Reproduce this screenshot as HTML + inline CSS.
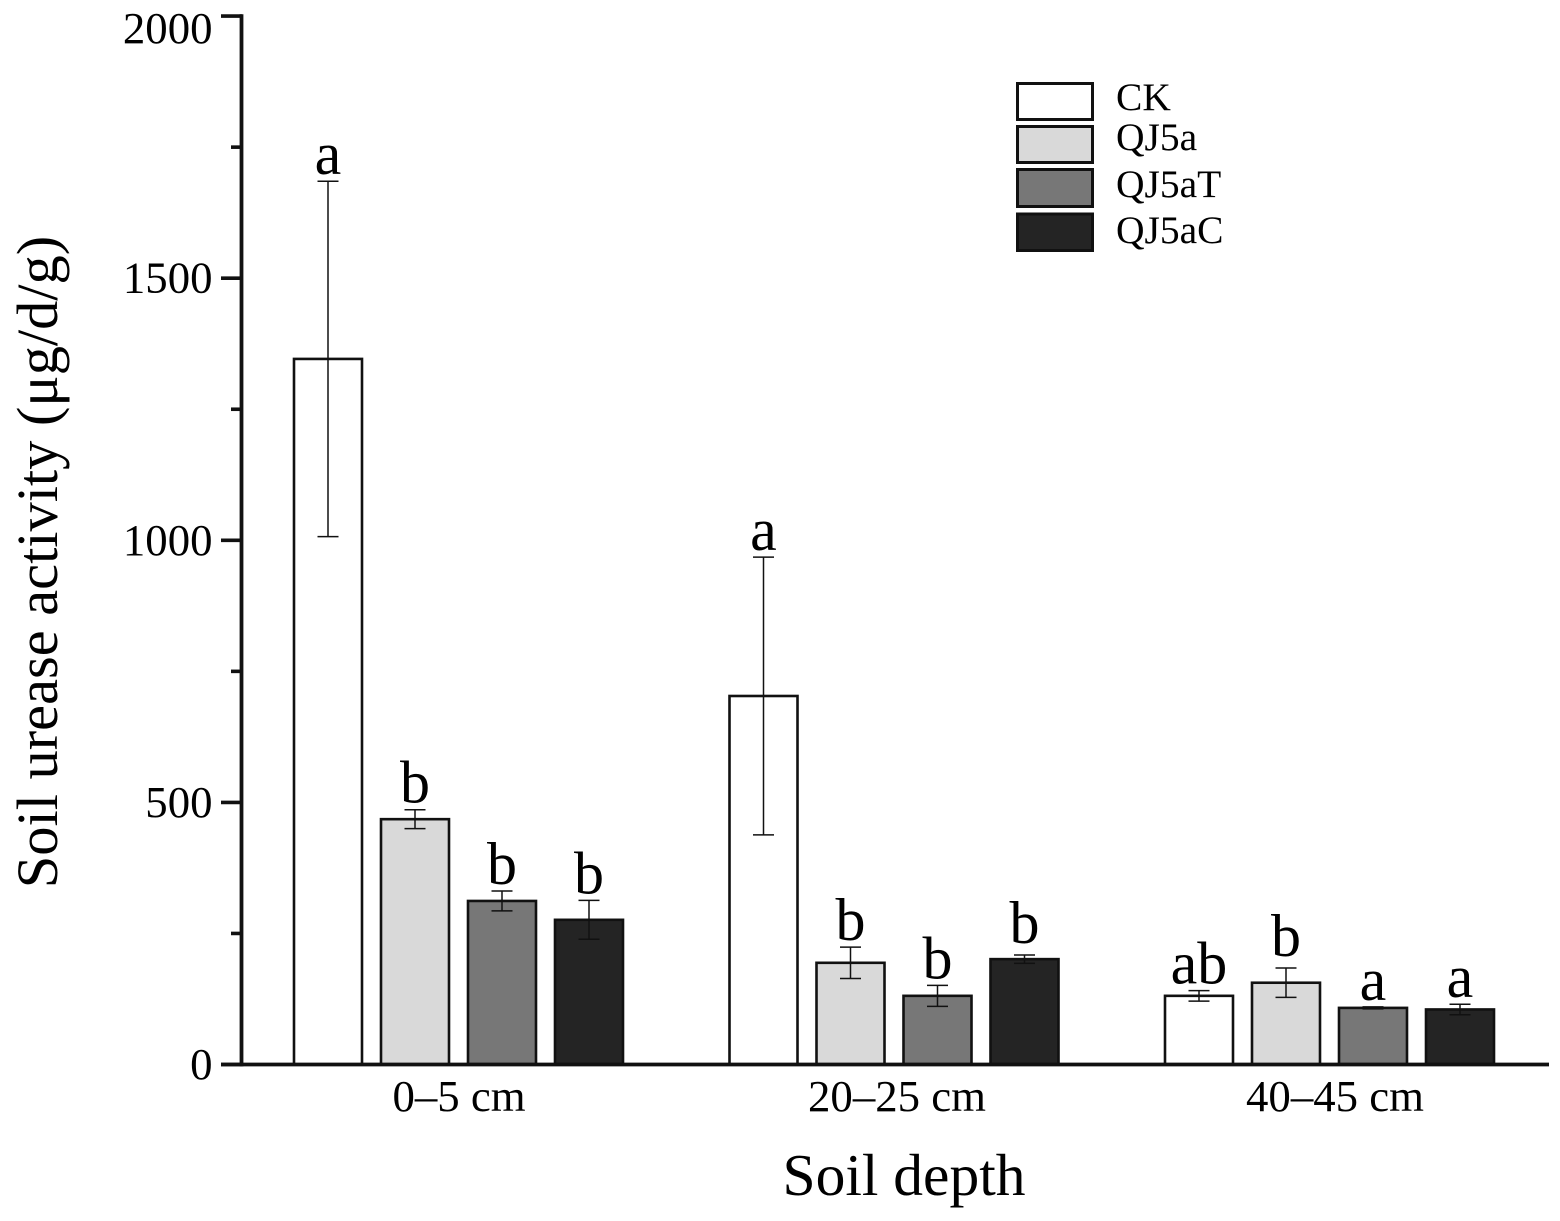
<!DOCTYPE html>
<html lang="en">
<head>
<meta charset="utf-8">
<title>Soil urease activity by soil depth</title>
<style>
  html, body { margin: 0; padding: 0; background: #fff; }
  svg { display: block; }
  text { font-family: "Liberation Serif", "Times New Roman", serif; fill: #000; }
</style>
</head>
<body>
<svg id="chart" xmlns="http://www.w3.org/2000/svg" width="1560" height="1221" viewBox="0 0 1560 1221">
  <rect x="0" y="0" width="1560" height="1221" fill="#fff"/>
  <g id="bars"></g>
  <g id="errors"></g>
  <g id="letters"></g>
  <g id="axes"></g>
  <text transform="translate(57,562) rotate(-90)" text-anchor="middle" font-size="58.4">Soil urease activity (μg/d/g)</text>
  <text x="904" y="1195" text-anchor="middle" font-size="59.5">Soil depth</text>
  <g>
    <g>
      <rect x="1017.5" y="83.5" width="75" height="36" fill="#ffffff" stroke="#111" stroke-width="3"/>
      <text x="1116" y="110" font-size="39.5">CK</text>
    </g>
    <g>
      <rect x="1017.5" y="126.5" width="75" height="36" fill="#d9d9d9" stroke="#111" stroke-width="3"/>
      <text x="1116" y="150" font-size="39.5">QJ5a</text>
    </g>
    <g>
      <rect x="1017.5" y="169.5" width="75" height="37" fill="#777777" stroke="#111" stroke-width="3"/>
      <text x="1116" y="197" font-size="39.5">QJ5aT</text>
    </g>
    <g>
      <rect x="1017.5" y="214" width="75" height="36.5" fill="#242424" stroke="#111" stroke-width="3"/>
      <text x="1116" y="243" font-size="39.5">QJ5aC</text>
    </g>
  </g>
</svg>
<script>
// Data
const categories = ["0–5 cm", "20–25 cm", "40–45 cm"];
const seriesNames = ["CK", "QJ5a", "QJ5aT", "QJ5aC"];
const ckValues = [1346, 703, 131];
const qj5aValues = [468, 194, 156];
const qj5atValues = [312, 131, 108];
const qj5acValues = [276, 201, 105];
const ckErrors = [339, 265, 10];
const qj5aErrors = [18, 30, 28];
const qj5atErrors = [19, 20, 2];
const qj5acErrors = [37, 8, 10];
const ckLetters = ["a", "a", "ab"];
const qj5aLetters = ["b", "b", "b"];
const qj5atLetters = ["b", "b", "a"];
const qj5acLetters = ["b", "b", "a"];
const yMajorTicks = [0, 500, 1000, 1500, 2000];
const yMinorTicks = [250, 750, 1250, 1750];

const seriesValues = [ckValues, qj5aValues, qj5atValues, qj5acValues];
const seriesErrors = [ckErrors, qj5aErrors, qj5atErrors, qj5acErrors];
const seriesLetters = [ckLetters, qj5aLetters, qj5atLetters, qj5acLetters];
const seriesFills = ["#ffffff", "#d9d9d9", "#777777", "#242424"];

// Axis functions
const y0 = 1064.5, pxPerUnit = 0.5242;
const yScale = v => y0 - v * pxPerUnit;
const groupCenter = i => 458.5 + i * 435.5;
const barCenter = (i, s) => groupCenter(i) + (s - 1.5) * 87;
const categoryLabelCenter = i => 459 + i * 438;
// Letters sit just above the upper error cap; two sit a little higher in the figure
const letterGap = (i, s) => ((i === 1 && s === 3) || (i === 2 && s === 1)) ? 12 : 7;

const NS = "http://www.w3.org/2000/svg";
function make(tag, parent, attrs) {
  const el = document.createElementNS(NS, tag);
  for (const k in attrs) el.setAttribute(k, attrs[k]);
  parent.appendChild(el);
  return el;
}
const barsG = document.getElementById("bars");
const errG = document.getElementById("errors");
const lettersG = document.getElementById("letters");
const axesG = document.getElementById("axes");
const ink = "#111";

categories.forEach((cat, i) => {
  seriesNames.forEach((name, s) => {
    const v = seriesValues[s][i], e = seriesErrors[s][i], cx = barCenter(i, s);
    const top = yScale(v);
    const bar = make("rect", barsG, { x: cx - 34, y: top, width: 68, height: y0 - top, fill: seriesFills[s], stroke: ink, "stroke-width": 2.6 });
    
    

    const up = yScale(v + e), lo = yScale(v - e);
    const stem = make("line", errG, { x1: cx, x2: cx, y1: up, y2: lo, stroke: ink, "stroke-width": 1.5 });
    
    
    const capTop = make("line", errG, { x1: cx - 10.5, x2: cx + 10.5, y1: up, y2: up, stroke: ink, "stroke-width": 1.5 });
    
    
    const capBottom = make("line", errG, { x1: cx - 10.5, x2: cx + 10.5, y1: lo, y2: lo, stroke: ink, "stroke-width": 1.5 });
    
    

    const letter = make("text", lettersG, { x: cx, y: up - letterGap(i, s), "text-anchor": "middle", "font-size": 60 });
    letter.textContent = seriesLetters[s][i];
    
    
  });
  const label = make("text", axesG, { x: categoryLabelCenter(i), y: 1111, "text-anchor": "middle", "font-size": 44.8 });
  label.textContent = cat;
  
  
});

yMajorTicks.forEach(t => {
  const y = yScale(t);
  const tick = make("line", axesG, { x1: 221, x2: 242, y1: y, y2: y, stroke: ink, "stroke-width": 3.6 });
  
  
  const label = make("text", axesG, { x: 212.5, y: Math.max(y + 14.5, 43), "text-anchor": "end", "font-size": 44.8 });
  label.textContent = String(t);
  
  
});
yMinorTicks.forEach(t => {
  const y = yScale(t);
  const tick = make("line", axesG, { x1: 231, x2: 242, y1: y, y2: y, stroke: ink, "stroke-width": 3.6 });
  
  
});

const yAxis = make("line", axesG, { x1: 241.5, x2: 241.5, y1: yScale(2000) - 1.8, y2: y0 + 1.9, stroke: ink, "stroke-width": 3.8 });


const xAxis = make("line", axesG, { x1: 221, x2: 1549, y1: y0, y2: y0, stroke: ink, "stroke-width": 3.8 });


</script>
</body>
</html>
